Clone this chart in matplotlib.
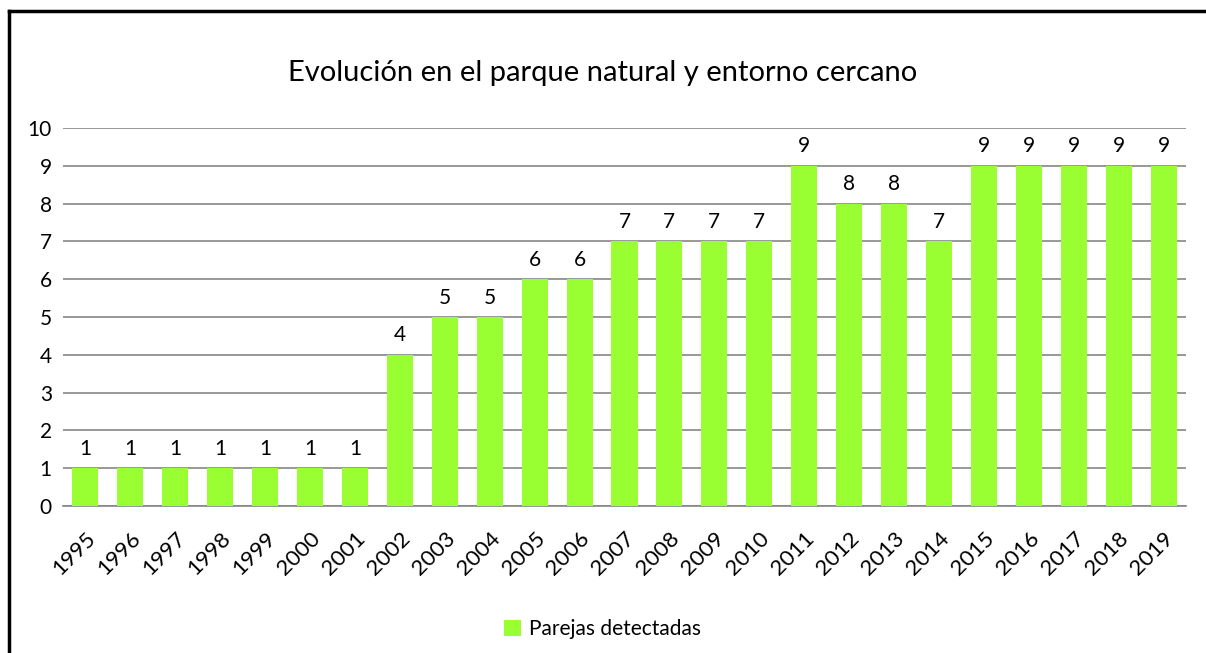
import matplotlib.pyplot as plt
from matplotlib.lines import Line2D

plt.rcParams['font.family'] = ['Lato', 'DejaVu Sans']

years = [str(y) for y in range(1995, 2020)]
parejas = [1, 1, 1, 1, 1, 1, 1, 4, 5, 5, 6, 6, 7, 7, 7, 7, 9, 8, 8, 7, 9, 9, 9, 9, 9]

bar_color = '#99ff33'
grid_color = '#868686'

fig = plt.figure(figsize=(12.06, 6.53), dpi=100)
ax = fig.add_axes([63 / 1206, 1 - 506 / 653, (1186 - 63) / 1206, (506 - 128) / 653])

x = range(len(years))
bars = ax.bar(x, parejas, width=0.58, color=bar_color, label='Parejas detectadas', zorder=3)

for xi, v in zip(x, parejas):
    ax.text(xi, v + 0.25, str(v), ha='center', va='bottom', fontsize=15)

ax.set_xlim(-0.5, len(years) - 0.5)
ax.set_ylim(0, 10)
ax.set_yticks(range(0, 11))
ax.set_xticks(list(x))
ax.set_xticklabels(years, rotation=45, ha='right', va='top',
                   rotation_mode='anchor', fontsize=16)
ax.tick_params(axis='y', labelsize=15, length=0, pad=8)
ax.tick_params(axis='x', length=0, pad=16)
ax.yaxis.grid(True, color=grid_color, linewidth=1.2, zorder=0)
for s in ['top', 'right', 'left']:
    ax.spines[s].set_visible(False)
ax.spines['bottom'].set_color(grid_color)
ax.spines['bottom'].set_linewidth(1.2)

fig.text(0.5, 1 - 73 / 653, 'Evolución en el parque natural y entorno cercano',
         ha='center', va='center', fontsize=21)

fig.legend(handles=[bars], labels=['Parejas detectadas'], loc='center',
           bbox_to_anchor=(0.5, 1 - 629 / 653), frameon=False, fontsize=15,
           handlelength=0.8, handleheight=0.8, handletextpad=0.4)

# chart frame: only the top and left edges fall inside the picture
fx = 9 / 1206
fy = 1 - 11 / 653
fig.add_artist(Line2D([fx, fx], [0, fy], transform=fig.transFigure,
                      color='black', linewidth=2.5, solid_capstyle='projecting'))
fig.add_artist(Line2D([fx, 1], [fy, fy], transform=fig.transFigure,
                      color='black', linewidth=2.5, solid_capstyle='projecting'))

fig.savefig('out.png', dpi=100)
